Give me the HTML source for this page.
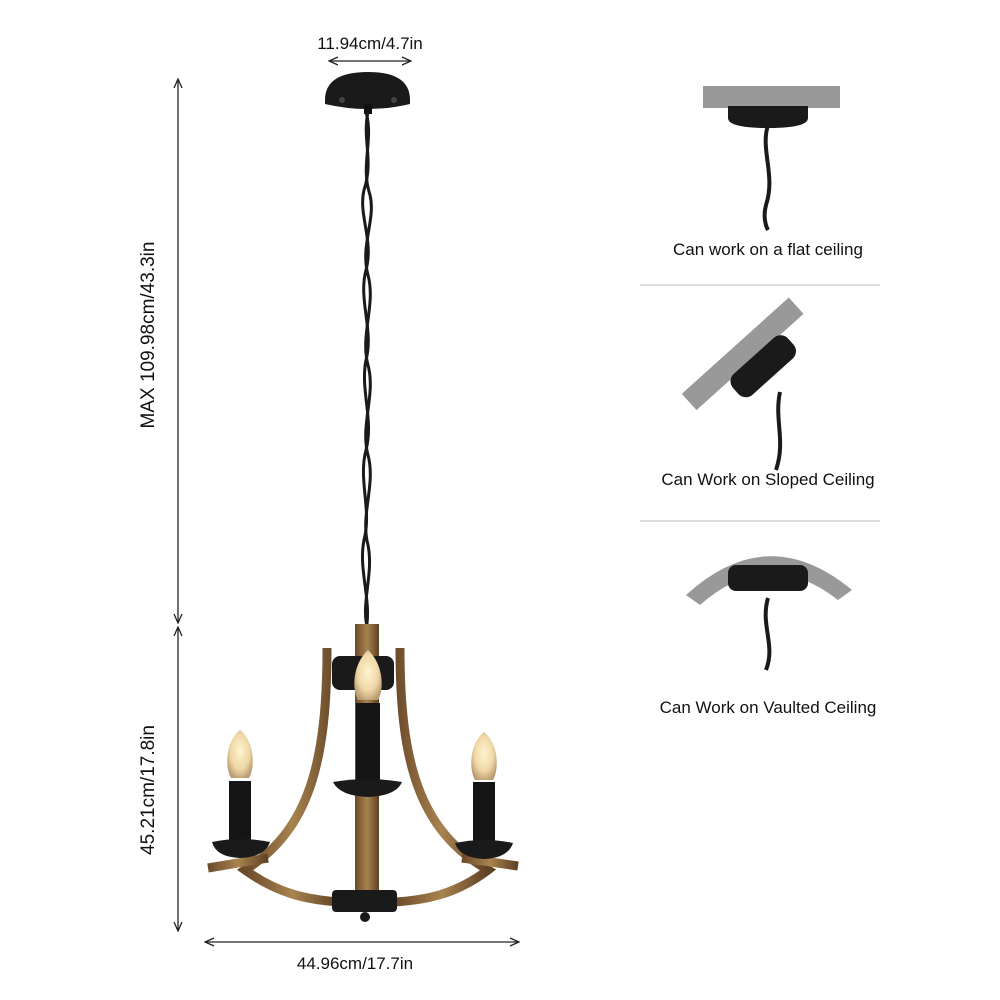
<!DOCTYPE html>
<html><head><meta charset="utf-8"><style>
html,body{margin:0;padding:0;background:#fff;}
svg{display:block}
text{font-family:"Liberation Sans",sans-serif;}
</style></head><body>
<svg width="1000" height="1000" viewBox="0 0 1000 1000" xmlns="http://www.w3.org/2000/svg">
<defs>
<marker id="ah" markerWidth="10" markerHeight="10" refX="8" refY="5" orient="auto-start-reverse" markerUnits="userSpaceOnUse">
<path d="M0,1 L9,5 L0,9" fill="none" stroke="#222" stroke-width="1.3"/>
</marker>
<linearGradient id="wood" x1="0" x2="1"><stop offset="0" stop-color="#6b4a2a"/><stop offset="0.5" stop-color="#a8834f"/><stop offset="1" stop-color="#5e4024"/></linearGradient>
<radialGradient id="bulb" cx="0.5" cy="0.45" r="0.6"><stop offset="0" stop-color="#fff4d0"/><stop offset="0.6" stop-color="#f0d8a8"/><stop offset="1" stop-color="#b89a70"/></radialGradient>
</defs>

<text x="370" y="49" font-size="17" text-anchor="middle" fill="#111">11.94cm/4.7in</text>
<line x1="330" y1="61" x2="410" y2="61" stroke="#222" stroke-width="1.3" marker-start="url(#ah)" marker-end="url(#ah)"/>

<line x1="178" y1="80" x2="178" y2="622" stroke="#222" stroke-width="1.3" marker-start="url(#ah)" marker-end="url(#ah)"/>
<text transform="translate(154,335) rotate(-90)" font-size="19" text-anchor="middle" fill="#111">MAX 109.98cm/43.3in</text>
<line x1="178" y1="628" x2="178" y2="930" stroke="#222" stroke-width="1.3" marker-start="url(#ah)" marker-end="url(#ah)"/>
<text transform="translate(154,790) rotate(-90)" font-size="19" text-anchor="middle" fill="#111">45.21cm/17.8in</text>
<line x1="206" y1="942" x2="518" y2="942" stroke="#222" stroke-width="1.3" marker-start="url(#ah)" marker-end="url(#ah)"/>
<text x="355" y="969" font-size="17" text-anchor="middle" fill="#111">44.96cm/17.7in</text>

<path d="M325,100 Q325,72 368,72 Q410,72 410,100 L410,104 Q368,114 325,104 Z" fill="#1a1a1a"/>
<circle cx="342" cy="100" r="3" fill="#444"/><circle cx="394" cy="100" r="3" fill="#444"/>
<rect x="364" y="104" width="8" height="10" fill="#111"/>

<g fill="none" stroke="#1a1a1a" stroke-width="3">
<path d="M368,112 C362,140 374,160 364,190 C358,215 374,240 366,270 C358,300 374,330 366,360 C360,390 374,420 366,450 C358,480 372,510 364,540 C358,570 372,600 366,630"/>
<path d="M366,112 C374,140 360,165 370,195 C376,220 360,245 368,275 C376,305 360,335 368,365 C376,395 360,425 368,455 C376,485 360,515 368,545 C374,575 360,605 368,630"/>
</g>

<g fill="none" stroke="url(#wood)" stroke-width="9" stroke-linecap="butt">
<path d="M327,648 C327,760 310,830 245,870 C280,895 310,900 340,902"/>
<path d="M400,648 C400,760 418,830 488,870 C455,895 425,900 395,902"/>
<path d="M208,868 L268,858"/>
<path d="M518,866 L462,858"/>
</g>
<rect x="355" y="624" width="24" height="280" fill="url(#wood)"/>
<rect x="332" y="656" width="62" height="34" rx="8" fill="#1a1a1a"/>
<rect x="332" y="890" width="65" height="22" rx="4" fill="#1a1a1a"/>
<circle cx="365" cy="917" r="5" fill="#1a1a1a"/>

<path d="M368,650 C384,665 384,690 378,700 L358,700 C352,690 352,665 368,650Z" fill="url(#bulb)"/>
<rect x="356" y="703" width="24" height="78" fill="#151515"/>
<path d="M333,782 Q368,776 402,782 Q396,796 368,797 Q340,796 333,782Z" fill="#1a1a1a"/>
<path d="M240,730 C255,742 255,768 249,778 L231,778 C225,768 225,742 240,730Z" fill="url(#bulb)"/>
<rect x="229" y="781" width="22" height="60" fill="#151515"/>
<path d="M212,842 Q240,836 270,842 Q265,857 240,858 Q216,857 212,842Z" fill="#1a1a1a"/>
<path d="M484,732 C499,744 499,770 493,780 L475,780 C469,770 469,744 484,732Z" fill="url(#bulb)"/>
<rect x="473" y="782" width="22" height="60" fill="#151515"/>
<path d="M455,843 Q484,837 513,843 Q508,858 484,859 Q460,858 455,843Z" fill="#1a1a1a"/>

<rect x="703" y="86" width="137" height="22" fill="#999"/>
<path d="M728,106 L808,106 L808,118 Q808,128 768,128 Q728,128 728,118Z" fill="#1a1a1a"/>
<path d="M768,125 C760,150 776,175 766,205 C762,220 768,230 768,230" fill="none" stroke="#1a1a1a" stroke-width="4"/>
<text x="768" y="255" font-size="17" text-anchor="middle" fill="#111">Can work on a flat ceiling</text>
<line x1="640" y1="285" x2="880" y2="285" stroke="#ddd" stroke-width="2"/>

<g transform="translate(750,362) rotate(-42)">
<rect x="-72" y="-22" width="144" height="22" fill="#999"/>
<rect x="-30" y="-2" width="74" height="28" rx="10" fill="#1a1a1a"/>
</g>
<path d="M780,392 C774,420 786,440 776,470" fill="none" stroke="#1a1a1a" stroke-width="4"/>
<text x="768" y="485" font-size="17" text-anchor="middle" fill="#111">Can Work on Sloped Ceiling</text>
<line x1="640" y1="521" x2="880" y2="521" stroke="#ddd" stroke-width="2"/>

<path d="M686,595 Q768,520 852,590 L838,600 Q768,545 700,605Z" fill="#999"/>
<rect x="728" y="565" width="80" height="26" rx="8" fill="#1a1a1a"/>
<path d="M768,598 C760,625 776,645 766,670" fill="none" stroke="#1a1a1a" stroke-width="4"/>
<text x="768" y="713" font-size="17" text-anchor="middle" fill="#111">Can Work on Vaulted Ceiling</text>
</svg>
</body></html>
